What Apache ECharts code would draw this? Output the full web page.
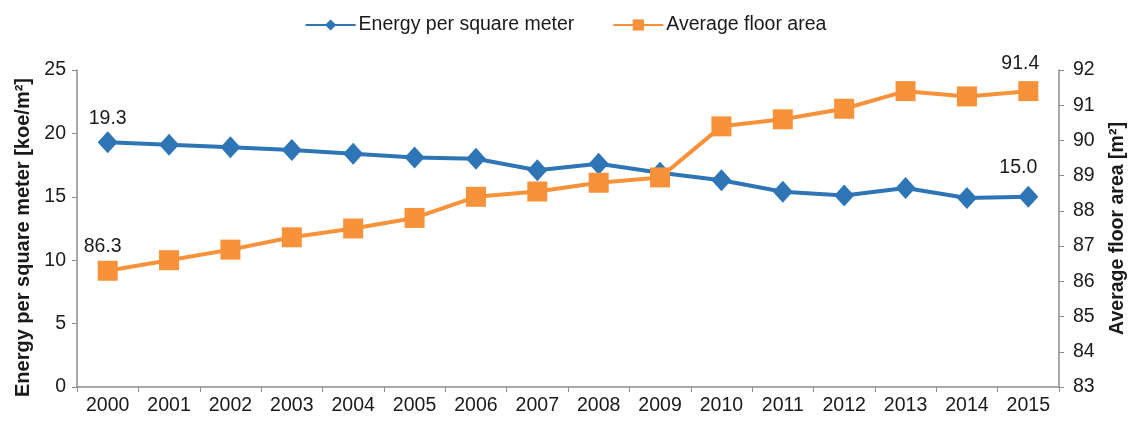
<!DOCTYPE html>
<html>
<head>
<meta charset="utf-8">
<script src="https://cdn.jsdelivr.net/npm/echarts@6/dist/echarts.min.js"></script>
<style>
  html, body { margin: 0; padding: 0; background: #fff; }
  #main { width: 1131px; height: 421px; }
</style>
</head>
<body>
<div id="main"></div>
<script>
// data
var years = ['2000', '2001', '2002', '2003', '2004', '2005', '2006', '2007',
             '2008', '2009', '2010', '2011', '2012', '2013', '2014', '2015'];
var energyPerM2 = [19.3, 19.1, 18.9, 18.7, 18.4, 18.1, 18.0, 17.1,
                   17.6, 16.9, 16.3, 15.4, 15.1, 15.7, 14.9, 15.0];
var floorArea = [86.3, 86.6, 86.9, 87.25, 87.5, 87.8, 88.4, 88.55,
                 88.8, 88.95, 90.4, 90.6, 90.9, 91.4, 91.25, 91.4];

var txt = '#1a1a1a';
var axisGray = '#8c8c8c';
var font = 'Liberation Sans, Arial, sans-serif';
var fs = 19.5;

// only first and last point get a value label
function withEndLabels(arr, firstLabel, lastLabel) {
    return arr.map(function (v, i) {
        var item = { value: v };
        if (i === 0) item.label = Object.assign({ show: true }, firstLabel);
        if (i === arr.length - 1) item.label = Object.assign({ show: true }, lastLabel);
        return item;
    });
}

var myChart = echarts.init(document.getElementById('main'));
var option = {
    animation: false,
    textStyle: { fontFamily: font },
    legend: {
        top: 10,
        left: 'center',
        itemWidth: 50,
        itemHeight: 14,
        itemGap: 38,
        textStyle: { fontSize: fs, color: txt, fontFamily: font, padding: [0, 0, 0, -2] },
        data: ['Energy per square meter', 'Average floor area']
    },
    grid: { left: 77, right: 72, top: 70, bottom: 34, outerBoundsMode: 'none' },
    xAxis: {
        type: 'category',
        data: years,
        boundaryGap: true,
        axisLine: { lineStyle: { color: axisGray, width: 1.5 } },
        axisTick: { show: true, length: 5, lineStyle: { color: axisGray } },
        axisLabel: { color: txt, fontSize: fs, margin: 9, fontFamily: font }
    },
    yAxis: [{
        type: 'value',
        min: 0, max: 25, interval: 5,
        name: 'Energy per square meter [koe/m²]',
        nameLocation: 'middle',
        nameGap: 43,
        nameTextStyle: { fontSize: 20, fontWeight: 'bold', color: txt, fontFamily: font, padding: [0, 18, 0, 0] },
        splitLine: { show: false },
        axisLine: { show: true, lineStyle: { color: axisGray, width: 1.5 } },
        axisTick: { show: true, length: 5, lineStyle: { color: axisGray } },
        axisLabel: { color: txt, fontSize: fs, margin: 11, fontFamily: font }
    }, {
        type: 'value',
        min: 83, max: 92, interval: 1,
        position: 'right',
        name: 'Average floor area [m²]',
        nameLocation: 'middle',
        nameGap: 49,
        nameRotate: 90,
        nameTextStyle: { fontSize: fs, fontWeight: 'bold', color: txt, fontFamily: font },
        splitLine: { show: false },
        axisLine: { show: true, lineStyle: { color: axisGray, width: 1.5 } },
        axisTick: { show: true, length: 5, lineStyle: { color: axisGray } },
        axisLabel: { color: txt, fontSize: fs, margin: 14, fontFamily: font }
    }],
    series: [{
        name: 'Energy per square meter',
        type: 'line',
        yAxisIndex: 0,
        data: withEndLabels(energyPerM2, { distance: 3 }, { distance: 8, offset: [-10, 0] }),
        symbol: 'diamond',
        symbolSize: [20, 22],
        lineStyle: { color: '#2E75B6', width: 4 },
        itemStyle: { color: '#2E75B6' },
        label: {
            position: 'top', color: txt, fontSize: fs, fontFamily: font,
            formatter: function (p) { return p.value.toFixed(1); }
        }
    }, {
        name: 'Average floor area',
        type: 'line',
        yAxisIndex: 1,
        data: withEndLabels(floorArea, { distance: 4, offset: [-5, 0] }, { distance: 8, offset: [-8, 0] }),
        symbol: 'rect',
        symbolSize: 20,
        lineStyle: { color: '#F7923A', width: 4 },
        itemStyle: { color: '#F7923A' },
        label: {
            position: 'top', color: txt, fontSize: fs, fontFamily: font,
            formatter: function (p) { return p.value.toFixed(1); }
        }
    }]
};
myChart.setOption(option);
</script>
</body>
</html>
